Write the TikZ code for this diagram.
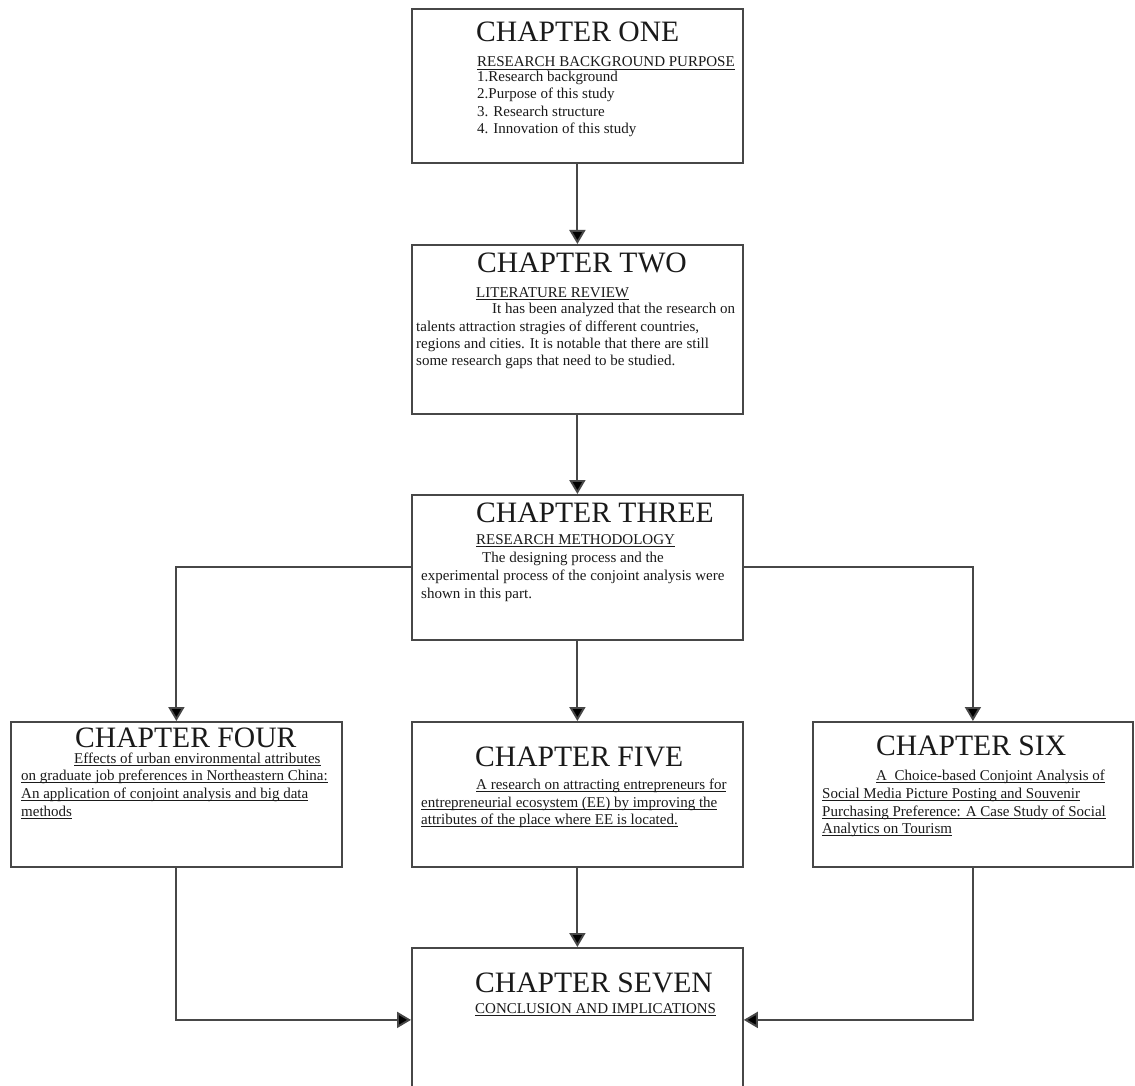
\documentclass[tikz,border=0pt]{standalone}
\usepackage{fontspec}
\setmainfont{Liberation Serif}
\usetikzlibrary{arrows.meta}
\definecolor{linegray}{HTML}{474747}
\definecolor{inkcol}{HTML}{1A1A1A}
% underline at a fixed depth below the baseline
\newcommand\undl[1]{\setbox0\hbox{#1}\rlap{\rule[-2.6pt]{\wd0}{0.8pt}}\box0}
% one line of text, placed on its baseline
\newcommand\bodyline[4]{\node[body,anchor=base west] (#1) at (#2,#3) {#4};}
\newcommand\headline[4]{\node[head,anchor=base west] (#1) at (#2,#3) {#4};}
\begin{document}
\begin{tikzpicture}[x=1pt,y=-1pt,
  chbox/.style={draw=linegray,line width=1.8pt,fill=white,inner sep=0pt,anchor=north west},
  head/.style={font=\fontsize{29.6}{31}\selectfont,text=inkcol,inner sep=0pt},
  body/.style={font=\fontsize{15}{17}\selectfont,text=inkcol,inner sep=0pt},
  conn/.style={draw=linegray,line width=1.9pt,-{Triangle[width=16pt,length=14pt,fill=black]}}]
\useasboundingbox (0,0) rectangle (1135,1086);
\fill[white] (0,0) rectangle (1135,1086);

% chapter boxes (the last one runs past the lower edge)
\begin{scope}
\clip (0,0) rectangle (1135,1086);
\node[chbox,minimum width=331pt,minimum height=154pt] (b1) at (411,8) {};
\node[chbox,minimum width=331pt,minimum height=169pt] (b2) at (411,244) {};
\node[chbox,minimum width=331pt,minimum height=145pt] (b3) at (411,494) {};
\node[chbox,minimum width=331pt,minimum height=145pt] (b4) at (10,721) {};
\node[chbox,minimum width=331pt,minimum height=145pt] (b5) at (411,721) {};
\node[chbox,minimum width=320pt,minimum height=145pt] (b6) at (812,721) {};
\node[chbox,minimum width=331pt,minimum height=144pt] (b7) at (411,947) {};
\end{scope}

% chapter one
\headline{h1}{476}{42}{CHAPTER ONE}
\bodyline{s1}{477}{67}{\undl{RESEARCH BACKGROUND PURPOSE}}
\bodyline{l11}{477}{82}{1.Research background}
\bodyline{l12}{477}{99}{2.Purpose of this study}
\bodyline{l13}{477}{117}{3. Research structure}
\bodyline{l14}{477}{134}{4. Innovation of this study}

% chapter two
\headline{h2}{477}{272}{CHAPTER TWO}
\bodyline{s2}{476}{297}{\undl{LITERATURE REVIEW}}
\bodyline{l21}{492}{313}{It has been analyzed that the research on}
\bodyline{l22}{416}{331}{talents attraction stragies of different countries,}
\bodyline{l23}{416}{348}{regions and cities. It is notable that there are still}
\bodyline{l24}{416}{365}{some research gaps that need to be studied.}

% chapter three
\headline{h3}{476}{522}{CHAPTER THREE}
\bodyline{s3}{476}{544}{\undl{RESEARCH METHODOLOGY}}
\bodyline{l31}{482}{562}{The designing process and the}
\bodyline{l32}{421}{580}{experimental process of the conjoint analysis were}
\bodyline{l33}{421}{598}{shown in this part.}

% chapter four
\headline{h4}{75}{747}{CHAPTER FOUR}
\bodyline{l41}{74}{763}{\undl{Effects of urban environmental attributes}}
\bodyline{l42}{21}{780}{\undl{on graduate job preferences in Northeastern China:}}
\bodyline{l43}{21}{798}{\undl{An application of conjoint analysis and big data}}
\bodyline{l44}{21}{816}{\undl{methods}}

% chapter five
\headline{h5}{475}{766}{CHAPTER FIVE}
\bodyline{l51}{476}{789}{\undl{A research on attracting entrepreneurs for}}
\bodyline{l52}{421}{807}{\undl{entrepreneurial ecosystem (EE) by improving the}}
\bodyline{l53}{421}{824}{\undl{attributes of the place where EE is located.}}

% chapter six
\headline{h6}{876}{755}{CHAPTER SIX}
\bodyline{l61}{876}{780}{\undl{A\ \ Choice-based Conjoint Analysis of}}
\bodyline{l62}{822}{798}{\undl{Social Media Picture Posting and Souvenir}}
\bodyline{l63}{822}{816}{\undl{Purchasing Preference: A Case Study of Social}}
\bodyline{l64}{822}{833}{\undl{Analytics on Tourism}}

% chapter seven
\headline{h7}{475}{992}{CHAPTER SEVEN}
\bodyline{s7}{475}{1013}{\undl{CONCLUSION AND IMPLICATIONS}}

% connectors
\draw[conn] (b1.south) -- (b2.north);
\draw[conn] (b2.south) -- (b3.north);
\draw[conn] (b3.south) -- (b5.north);
\draw[conn] (b3.west) -| (b4.north);
\draw[conn] (b3.east) -| (b6.north);
\draw[conn] (b5.south) -- (b7.north);
\draw[conn] (b4.south) |- (b7.west);
\draw[conn] (b6.south) |- (b7.east);
\end{tikzpicture}
\end{document}
